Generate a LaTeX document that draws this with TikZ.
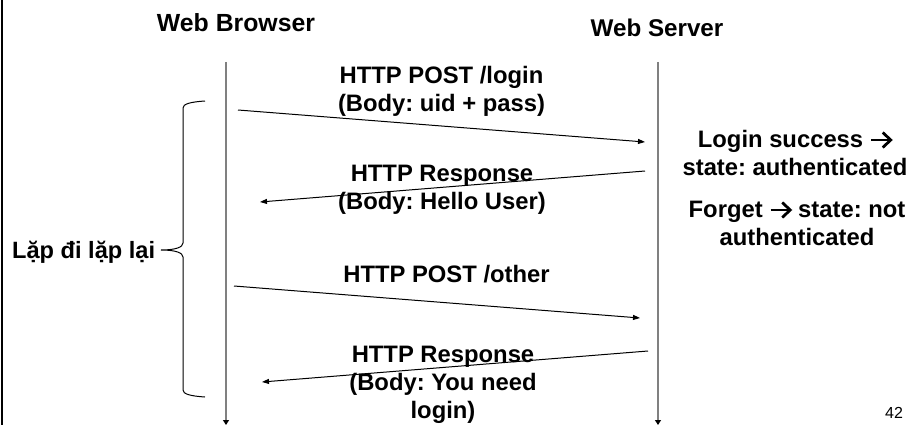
\documentclass[tikz,border=0pt]{standalone}
\usepackage{fontspec}
\setmainfont{Liberation Sans}
\usetikzlibrary{arrows.meta}
\frenchspacing
\newcommand{\chevarr}{\tikz[baseline=0pt,x=1pt,y=1pt,line width=2.8pt]{%
  \draw[line cap=butt] (0,7) -- (19,7);
  \draw[line join=miter,line cap=butt] (11.5,14.5) -- (19.5,7) -- (11.5,-0.5);}}
\begin{document}
\begin{tikzpicture}[x=1pt,y=-1pt,
  lbl/.style={font=\bfseries\fontsize{23.8}{28}\selectfont, align=center, inner sep=0pt, anchor=base},
  ttl/.style={font=\bfseries\fontsize{24.2}{28}\selectfont, inner sep=0pt, anchor=base},
  life/.style={draw=black!50, line width=1.5pt, -{Triangle[length=5pt,width=6pt,color=black]}},
  msg/.style={draw=black, line width=1pt, -{Triangle[length=7pt,width=5pt]}},
  brace/.style={draw=black, line width=1pt}
]
\useasboundingbox (0,0) rectangle (912,425);
% left border
\draw[line width=2.5pt] (2,0) -- (2,425);

% titles
\node[ttl, font=\bfseries\fontsize{24.8}{28}\selectfont] (wb) at (236,32) {Web Browser};
\node[ttl] (ws) at (657,36.5) {Web Server};

% lifelines
\coordinate (bt) at (226,62);
\coordinate (bb) at (226,425);
\coordinate (st) at (658,62);
\coordinate (sb) at (658,425);
\draw[life] (bt) -- (bb);
\draw[life] (st) -- (sb);

% message end points
\coordinate (m1s) at (238,110);
\coordinate (m1e) at (645,142);
\coordinate (m2s) at (645,171);
\coordinate (m2e) at (260,202);
\coordinate (m3s) at (234,286);
\coordinate (m3e) at (640,318);
\coordinate (m4s) at (648,351);
\coordinate (m4e) at (262,382);

\draw[msg] (m1s) -- (m1e);
\draw[msg] (m2s) -- (m2e);
\draw[msg] (m3s) -- (m3e);
\draw[msg] (m4s) -- (m4e);

% message labels (anchor = baseline of last line)
\node[lbl] (l1) at (441.5,111.5) {HTTP POST /login\\(Body: uid + pass)};
\node[lbl] (l2) at (442,209) {HTTP Response\\(Body: Hello User)};
\node[lbl] (l3) at (446.5,282) {HTTP POST /other};
\node[lbl] (l4) at (443,418) {HTTP Response\\(Body: You need\\login)};

% server notes
\node[lbl] (n1) at (795,175) {Login success \chevarr\\state: authenticated};
\node[lbl] (n2) at (797,245) {Forget \chevarr{} state: not\\authenticated};

% repeat brace
\node[font=\bfseries\fontsize{23.6}{28}\selectfont, inner sep=0pt, anchor=base west] (rep) at (12,258) {Lặp đi lặp lại};
\coordinate (tip) at (161,250);
\draw[brace] (205,101) .. controls (190,102) and (183,104) .. (183,108)
  -- (183,243) .. controls (183,247) and (176,250) .. (tip)
  .. controls (176,250) and (183,253) .. (183,257)
  -- (183,390) .. controls (183,394) and (190,396) .. (205,397);

% page number
\node[font=\fontsize{16}{18}\selectfont, inner sep=0pt, anchor=base] (pg) at (894,418) {42};
\end{tikzpicture}
\end{document}
